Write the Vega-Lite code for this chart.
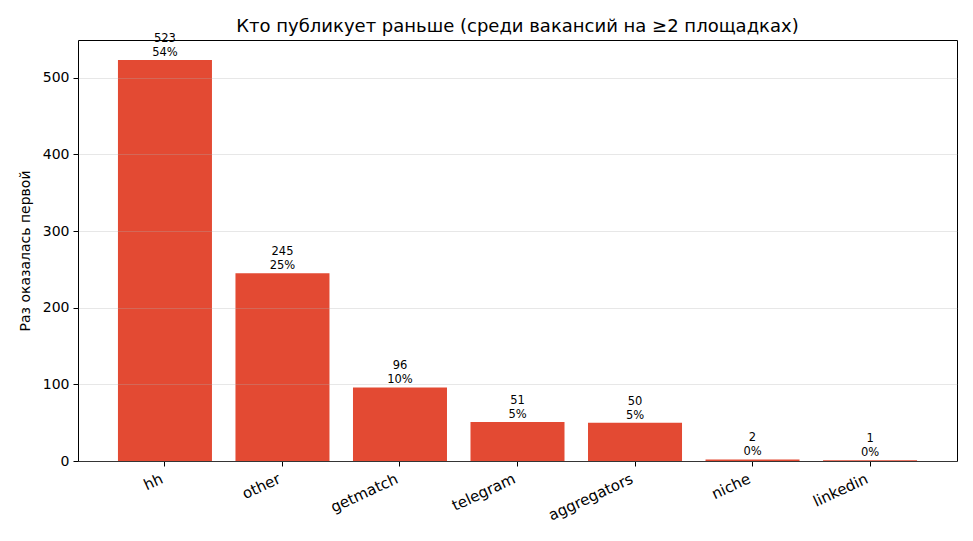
{
  "$schema": "https://vega.github.io/schema/vega-lite/v6.json",
  "autosize": "none",
  "width": 879,
  "height": 421,
  "padding": {"left": 78, "top": 40, "right": 16, "bottom": 80},
  "background": "white",
  "title": {
    "text": "Кто публикует раньше (среди вакансий на ≥2 площадках)",
    "font": "DejaVu Sans",
    "fontSize": 18,
    "fontWeight": "normal",
    "color": "black",
    "anchor": "middle",
    "offset": -3
  },
  "data": {
    "values": [
      {"source": "hh", "n": 523, "pct": 54},
      {"source": "other", "n": 245, "pct": 25},
      {"source": "getmatch", "n": 96, "pct": 10},
      {"source": "telegram", "n": 51, "pct": 5},
      {"source": "aggregators", "n": 50, "pct": 5},
      {"source": "niche", "n": 2, "pct": 0},
      {"source": "linkedin", "n": 1, "pct": 0}
    ]
  },
  "transform": [{"calculate": "datum.pct + '%'", "as": "pct_label"}],
  "encoding": {
    "x": {
      "field": "source",
      "type": "nominal",
      "sort": null,
      "scale": {"paddingInner": 0.2, "paddingOuter": 0.34},
      "axis": {
        "title": null,
        "labelAngle": -25,
        "labelAlign": "right",
        "labelBaseline": "top",
        "labelFontSize": 15,
        "labelPadding": 5,
        "labelOffset": -6,
        "tickSize": 5,
        "tickColor": "black",
        "domain": false
      }
    },
    "y": {
      "field": "n",
      "type": "quantitative",
      "scale": {"domain": [0, 549.15], "nice": false},
      "axis": {
        "title": "Раз оказалась первой",
        "titleFontSize": 14,
        "titleFontWeight": "normal",
        "titlePadding": 10,
        "labelFontSize": 14,
        "labelPadding": 4,
        "values": [0, 100, 200, 300, 400, 500],
        "tickSize": 5,
        "tickColor": "black",
        "domain": false,
        "grid": true,
        "gridColor": "#b0b0b0",
        "gridOpacity": 0.3,
        "zindex": 1
      }
    }
  },
  "layer": [
    {"mark": {"type": "bar", "color": "#e34a33"}},
    {
      "mark": {"type": "text", "baseline": "alphabetic", "dy": -18, "fontSize": 11.5, "color": "black", "clip": false},
      "encoding": {"text": {"field": "n", "type": "quantitative"}}
    },
    {
      "mark": {"type": "text", "baseline": "alphabetic", "dy": -4, "fontSize": 11.5, "color": "black", "clip": false},
      "encoding": {"text": {"field": "pct_label", "type": "nominal"}}
    }
  ],
  "config": {
    "font": "DejaVu Sans",
    "view": {"stroke": "black", "strokeWidth": 1},
    "axis": {"labelColor": "black", "titleColor": "black", "labelFont": "DejaVu Sans", "titleFont": "DejaVu Sans"}
  }
}
